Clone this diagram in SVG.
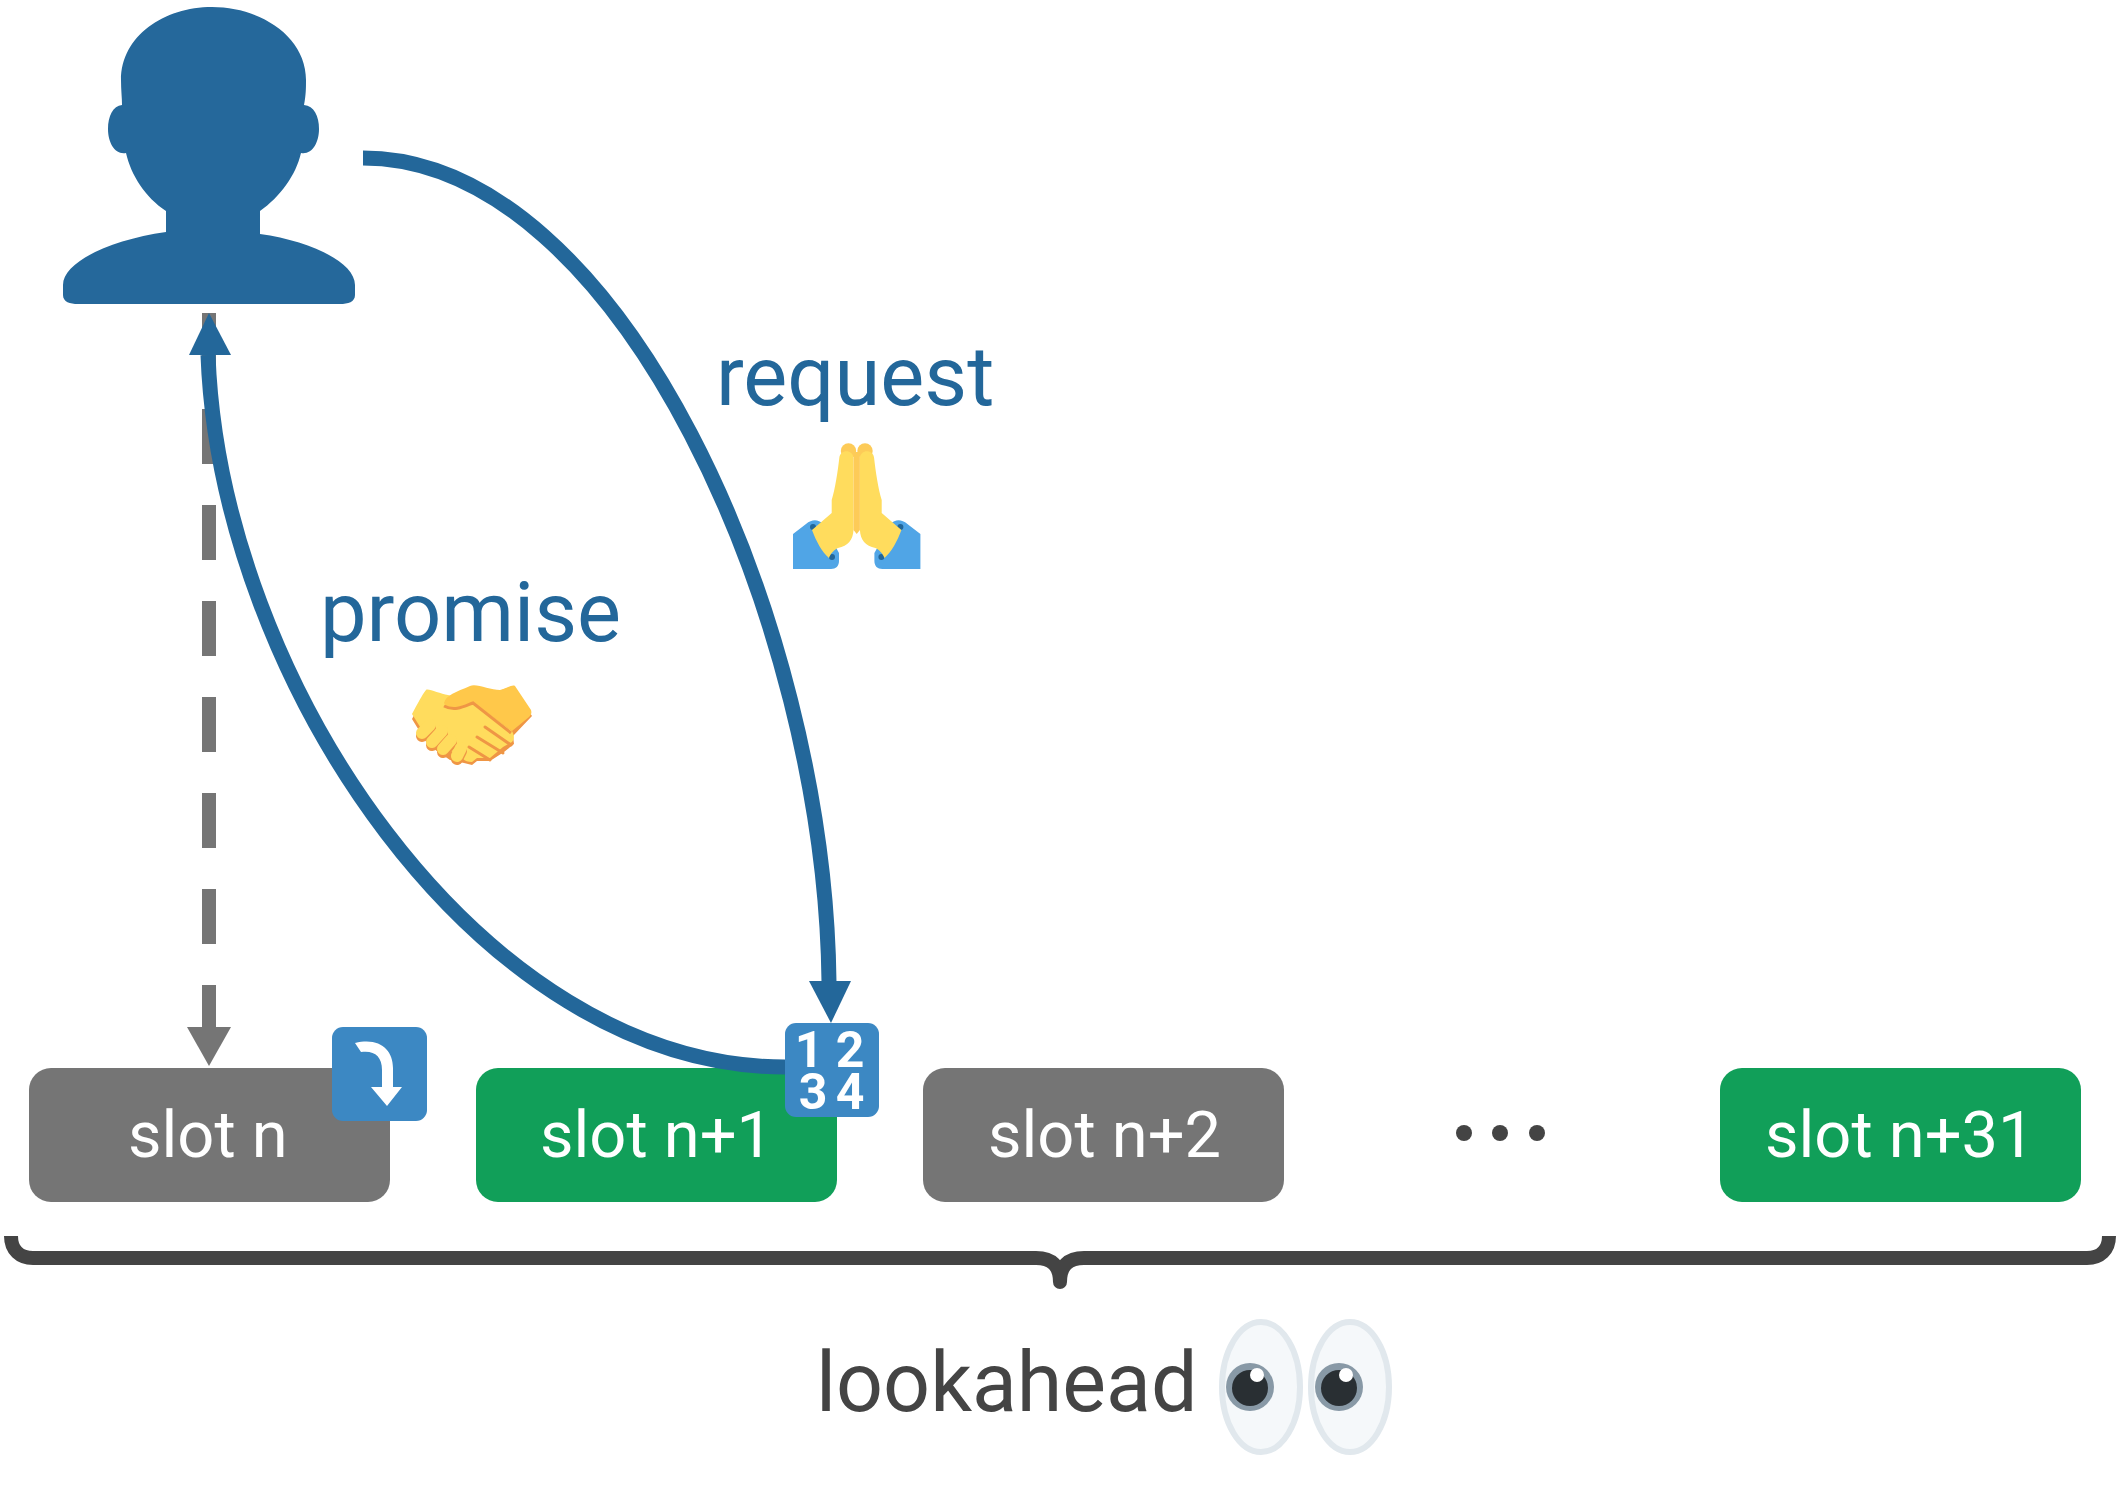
<svg xmlns="http://www.w3.org/2000/svg" width="2117" height="1485" viewBox="0 0 2117 1485">
<style>
.slot{stroke:none}
.t{font-family:Roboto,"Liberation Sans",sans-serif;font-weight:400}
.s{font-size:65px;fill:#fff}
.b{font-size:83px;fill:#23679a}
.d{font-family:Roboto,"Liberation Sans",sans-serif;font-weight:700;font-size:50px;fill:#fff;text-anchor:middle}
.conn{fill:none;stroke:#23679a;stroke-width:15}
</style>
<rect width="2117" height="1485" fill="#fff"/>
<g id="connector-dashed">
<path d="M209 313V1027" fill="none" stroke="#757575" stroke-width="14" stroke-dasharray="55 41"/>
<path d="M187 1027H231L209 1066Z" fill="#757575"/>
</g>
<g id="slot-n"><rect class="slot" x="29" y="1068" width="361" height="134" rx="22" fill="#757575"/><text class="t s" x="128" y="1157">slot n</text></g>
<g id="slot-n1"><rect class="slot" x="476" y="1068" width="361" height="134" rx="22" fill="#119f59"/><text class="t s" x="540" y="1157">slot n+1</text></g>
<g id="slot-n2"><rect class="slot" x="923" y="1068" width="361" height="134" rx="22" fill="#757575"/><text class="t s" x="988" y="1157">slot n+2</text></g>
<g id="slot-n31"><rect class="slot" x="1720" y="1068" width="361" height="134" rx="22" fill="#119f59"/><text class="t s" x="1765" y="1157">slot n+31</text></g>
<g id="ellipsis" fill="#444"><circle cx="1464" cy="1133" r="8"/><circle cx="1500" cy="1133" r="8"/><circle cx="1537" cy="1133" r="8"/></g>
<g id="connectors">
<path class="conn" d="M363 158C620 158 825 620 829 982"/>
<path d="M809 981H851L831 1023Z" fill="#23679a"/>
<path class="conn" d="M785 1067C480 1067 220 680 208 355"/>
<path d="M189 355H231L209 313Z" fill="#23679a"/>
</g>
<g id="person">
<path fill="#25689b" d="M212 7C164 7 121 36 121 80C121 90 122 98 122 105C113 106 108 116 108 129C108 143 115 155 126 153C131 175 145 197 166 211V232C110 240 63 262 63 285V295C63 302 70 304 78 304H340C348 304 355 302 355 295V285C355 262 310 241 260 234V211C280 197 296 175 301 153C312 155 319 143 319 129C319 116 314 106 304 105C306 95 306 88 306 80C306 36 260 7 212 7Z"/>
</g>
<g id="badge-return">
<rect x="332" y="1027" width="95" height="94" rx="11" fill="#3c88c3"/>
<path d="M355 1043C380 1037 393 1050 393 1068V1087H402L387 1106L371 1087H382V1070C382 1056 374 1050 361 1052Z" fill="#fff"/>
</g>
<g id="badge-1234">
<rect x="785" y="1023" width="94" height="94" rx="11" fill="#3c88c3"/>
<text class="d"><tspan x="809" y="1067">1</tspan><tspan x="850" y="1067">2</tspan><tspan x="813" y="1109">3</tspan><tspan x="850" y="1109">4</tspan></text>
</g>
<g id="label-request">
<text class="t b" x="716" y="405">request</text>
<g id="pray">
<circle cx="848.5" cy="451" r="7.7" fill="#fdcb58"/><circle cx="865" cy="451" r="7.7" fill="#fdcb58"/>
<g id="pray-left">
<path fill="#50a5e6" d="M793 534L806 524C812 519 818 519 823 524L839 553V561C839 566 836 569 831 569H793Z"/>
<circle cx="813" cy="527" r="3" fill="#226699"/><circle cx="832" cy="557" r="3" fill="#226699"/>
<path fill="#ffdc5d" d="M812 530L831.7 513V500C835 490 838 470 839.3 458C840 449 853 449 853.5 458V530C853 540 848 546 838 548C835 549 830 554 829 558C822 552 816 541 812 530Z"/>
</g>
<g transform="translate(1713.4 0) scale(-1 1)">
<path fill="#50a5e6" d="M793 534L806 524C812 519 818 519 823 524L839 553V561C839 566 836 569 831 569H793Z"/>
<circle cx="813" cy="527" r="3" fill="#226699"/><circle cx="832" cy="557" r="3" fill="#226699"/>
<path fill="#ffdc5d" d="M812 530L831.7 513V500C835 490 838 470 839.3 458C840 449 853 449 853.5 458V530C853 540 848 546 838 548C835 549 830 554 829 558C822 552 816 541 812 530Z"/>
</g>
<path fill="#fdcb58" d="M853.5 452H859.9V530L856.7 534L853.5 530Z"/>
</g>
</g>
<g id="label-promise">
<text class="t b" x="320" y="641">promise</text>
<g id="handshake">
<path fill="#ef9645" d="M412 719L426 692L450 698L473 700L513 686L532 716L513 736L514 744L504 752L490 761H477L472 765L464 763L450 760L428 745Z"/>
<path fill="#ffdc5d" d="M412 714C418 703 422 695 426 690C428 688 440 694 448 695L474 702L512 731C514 735 515 738 512 742L503 747L490 758H477L472 762C468 762 465 761 462 758L434 740L422 730Z"/>
<path fill="#ffc84a" d="M444 703C446 695 456 692 470 686C476 683 490 690 500 690C506 689 512 684 515 686L531 710C532 713 531 715 529 717L512 731L473 702C462 708 448 712 444 703Z"/>
<path fill="none" stroke="#ef9645" stroke-width="3" d="M444 706C455 712 465 706 473 703L511 733"/>
<g fill="none" stroke="#ef9645" stroke-width="3" stroke-linecap="round"><path d="M485 727L511 745"/><path d="M477 737L503 753"/><path d="M469 747L490 760"/></g>
<g fill="none" stroke-linecap="round"><g stroke="#ef9645" stroke-width="12"><path d="M422 736L430 728"/><path d="M432 745L442 734"/><path d="M443 752L451 743"/><path d="M457 759L461 751"/></g><g stroke="#ffdc5d" stroke-width="12"><path d="M422 733L430 725"/><path d="M432 742L442 731"/><path d="M443 749L451 740"/><path d="M457 756L461 748"/></g></g>
</g>
</g>
<g id="brace"><path d="M11 1236C11 1250 20 1258 33 1258H1036C1052 1258 1060 1266 1060 1282C1060 1266 1068 1258 1084 1258H2087C2100 1258 2109 1250 2109 1236" fill="none" stroke="#444" stroke-width="14" stroke-linejoin="round"/></g>
<g id="label-lookahead">
<text class="t" x="816" y="1411" font-size="82.5" fill="#444">lookahead</text>
<g id="eye-1"><ellipse cx="1261" cy="1387" rx="39" ry="65" fill="#f5f8fa" stroke="#e1e8ed" stroke-width="6"/><circle cx="1250" cy="1387" r="24" fill="#8899a6"/><circle cx="1250" cy="1388" r="18" fill="#292f33"/><circle cx="1257" cy="1375" r="7" fill="#fff"/></g>
<g id="eye-2"><ellipse cx="1350" cy="1387" rx="39" ry="65" fill="#f5f8fa" stroke="#e1e8ed" stroke-width="6"/><circle cx="1339" cy="1387" r="24" fill="#8899a6"/><circle cx="1339" cy="1388" r="18" fill="#292f33"/><circle cx="1346" cy="1375" r="7" fill="#fff"/></g>
</g>
</svg>
